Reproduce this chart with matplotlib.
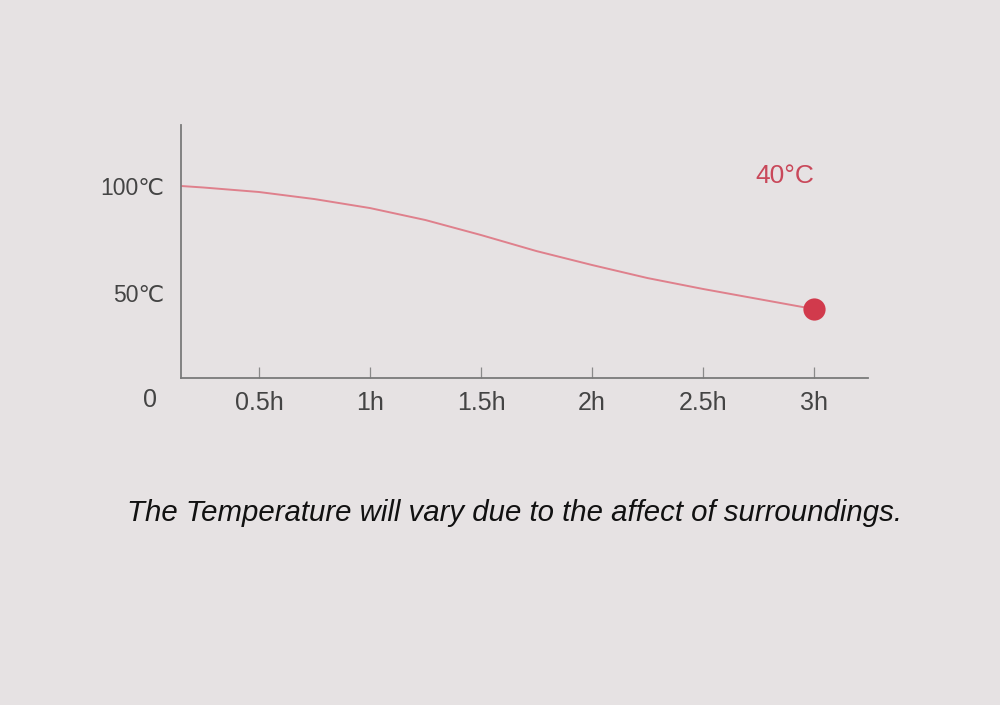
import matplotlib
matplotlib.use("Agg")
import matplotlib.pyplot as plt

# Data
hours = [0.15, 0.25, 0.5, 0.75, 1.0, 1.25, 1.5, 1.75, 2.0, 2.25, 2.5, 2.75, 3.0]
temps = [100.0, 99.3, 97.2, 93.9, 89.7, 84.1, 77.1, 69.6, 63.1, 57.0, 51.9, 47.2, 42.5]
x_ticks = [0.5, 1.0, 1.5, 2.0, 2.5, 3.0]
x_labels = ["0.5h", "1h", "1.5h", "2h", "2.5h", "3h"]
y_ticks = [50, 100]
y_labels = ["50℃", "100℃"]
end_label = "40°C"
caption = "The Temperature will vary due to the affect of surroundings."

BG = "#e6e2e3"
FAM = ["Liberation Sans", "DejaVu Sans"]
TXT = "#444444"

fig = plt.figure(figsize=(10, 7.05), dpi=100, facecolor=BG)
ax = fig.add_axes([0.181, 0.4638, 0.687, 0.3589], facecolor=BG)

ax.plot(hours, temps, color="#df808c", lw=1.4, solid_capstyle="round")
ax.plot([hours[-1]], [temps[-1]], "o", color="#d13a4c", ms=16, mec="none")

ax.set_xlim(0.149, 3.243)
ax.set_ylim(10.3, 128.5)

for s in ["top", "right"]:
    ax.spines[s].set_visible(False)
for s in ["left", "bottom"]:
    ax.spines[s].set_color("#7a7a7a")
    ax.spines[s].set_linewidth(1.3)

ax.set_xticks(x_ticks)
ax.set_xticklabels(x_labels, family=FAM, fontsize=18, color=TXT)
ax.tick_params(axis="x", direction="in", length=8, width=0.9, color="#8a8a8a", pad=9)
ax.set_yticks(y_ticks)
ax.set_yticklabels(y_labels, family=FAM, fontsize=16.5, color=TXT)
ax.tick_params(axis="y", length=0, pad=12)

ax.text(0.01, 0.0, "0", ha="center", va="center", family=FAM,
        fontsize=18, color=TXT, clip_on=False)
ax.text(2.87, 104.7, end_label, ha="center", va="center", family=FAM,
        fontsize=19, color="#c9485a")

fig.text(0.5145, 0.272, caption, ha="center", va="center", fontstyle="italic",
         family=["Liberation Sans", "DejaVu Sans"], fontsize=21.2, color="#111111")

fig.savefig("out.png", dpi=100, facecolor=BG)
